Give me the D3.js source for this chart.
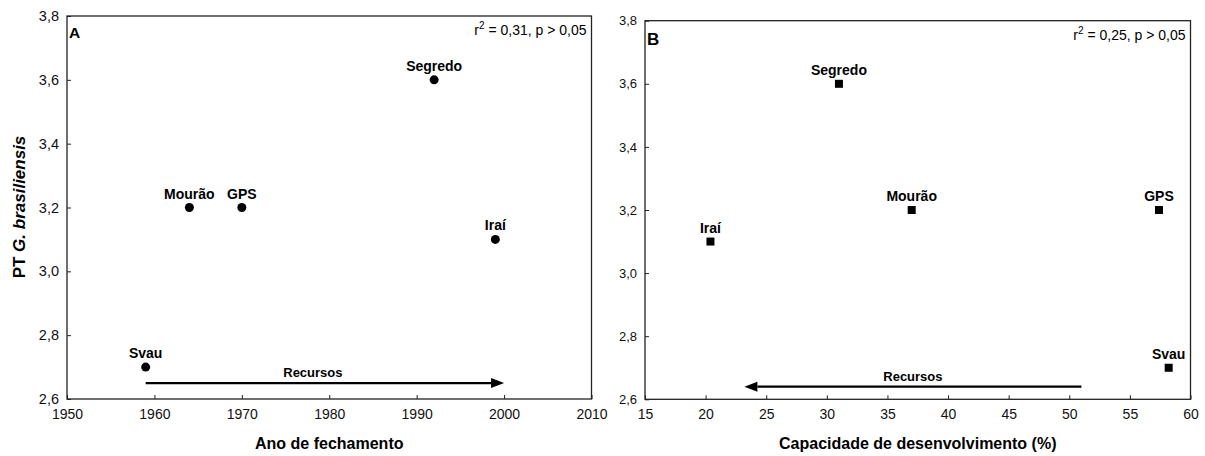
<!DOCTYPE html>
<html>
<head>
<meta charset="utf-8">
<script src="https://cdn.jsdelivr.net/npm/d3@7/dist/d3.min.js"></script>
<style>
  body { margin: 0; background: #fff; }
  svg { display: block; font-family: "Liberation Sans", Arial, sans-serif; }
</style>
</head>
<body>
<svg id="chart" width="1205" height="456"></svg>
<script>
// ---- data ----
const sites = ["Svau", "Mourão", "GPS", "Segredo", "Iraí"];
const ptValues = [2.7, 3.2, 3.2, 3.6, 3.1];
const closingYear = [1959, 1964, 1970, 1992, 1999];
const devCapacity = [58.2, 37.0, 57.4, 31.0, 20.4];
const yTicks = [2.6, 2.8, 3.0, 3.2, 3.4, 3.6, 3.8];
const xTicksA = [1950, 1960, 1970, 1980, 1990, 2000, 2010];
const xTicksB = [15, 20, 25, 30, 35, 40, 45, 50, 55, 60];
const arrowA = { from: 1959, to: 2000, y: 2.65, label: "Recursos" };
const arrowB = { from: 51, to: 23.2, y: 2.64, label: "Recursos" };
const statsA = "0,31";
const statsB = "0,25";

const svg = d3.select("#chart");
const fmt = d => d3.format(".1f")(d).replace(".", ",");

function panel(cfg) {
  const x = d3.scaleLinear().domain(cfg.xDomain).range([cfg.left, cfg.right]);
  const y = d3.scaleLinear().domain([2.6, 3.8]).range([cfg.bottom, cfg.top]);
  const g = svg.append("g");

  // x axis
  const xa = g.append("g").attr("transform", `translate(0,${cfg.bottom})`)
    .call(d3.axisBottom(x).tickValues(cfg.xTicks).tickSize(-4).tickPadding(10).tickFormat(d3.format("d")));
  xa.select(".domain").remove();
  xa.selectAll("line").attr("stroke", "#222");
  xa.selectAll("text").attr("font-size", cfg.xFont).attr("fill", "#111");

  const ya = g.append("g").attr("transform", `translate(${cfg.left},0)`)
    .call(d3.axisLeft(y).tickValues(yTicks).tickSize(-4).tickPadding(cfg.yPad).tickFormat(fmt));
  ya.select(".domain").remove();
  ya.selectAll("line").attr("stroke", "#222");
  ya.selectAll("text").attr("font-size", cfg.yFont).attr("fill", "#111");

  // frame
  g.append("rect").attr("x", cfg.left).attr("y", cfg.top)
    .attr("width", cfg.right - cfg.left).attr("height", cfg.bottom - cfg.top)
    .attr("fill", "none").attr("stroke", "#222").attr("stroke-width", 1.3);

  // panel letter
  g.append("text").attr("x", cfg.left + 2).attr("y", cfg.top + cfg.letterDy)
    .attr("font-size", cfg.letterFont).attr("font-weight", "bold").text(cfg.letter);

  // stats
  const st = g.append("text").attr("x", cfg.right - 5).attr("y", cfg.top + 19)
    .attr("text-anchor", "end").attr("font-size", 14);
  st.append("tspan").text("r");
  st.append("tspan").attr("font-size", 10).attr("dy", -6).text("2");
  st.append("tspan").attr("dy", 6).text(` = ${cfg.stat}, p > 0,05`);

  // points
  const pts = sites.map((s, i) => ({ s, x: cfg.xVals[i], y: ptValues[i] }));
  if (cfg.shape === "circle") {
    g.selectAll("circle.pt").data(pts).join("circle").attr("class", "pt")
      .attr("cx", d => x(d.x)).attr("cy", d => y(d.y)).attr("r", 4.5).attr("fill", "#000");
  } else {
    g.selectAll("rect.pt").data(pts).join("rect").attr("class", "pt")
      .attr("x", d => x(d.x) - 4).attr("y", d => y(d.y) - 4).attr("width", 8).attr("height", 8).attr("fill", "#000");
  }
  g.selectAll("text.lab").data(pts).join("text").attr("class", "lab")
    .attr("x", d => x(d.x)).attr("y", d => y(d.y) - 9)
    .attr("text-anchor", "middle").attr("font-size", 14).attr("font-weight", "bold")
    .text(d => d.s);

  // arrow
  const a = cfg.arrow;
  const x1 = x(a.from), x2 = x(a.to), ay = y(a.y);
  const dir = Math.sign(x2 - x1);
  const headLen = 13, headW = 5;
  g.append("line").attr("x1", x1).attr("x2", x2 - dir * headLen).attr("y1", ay).attr("y2", ay)
    .attr("stroke", "#000").attr("stroke-width", 2.2);
  g.append("path").attr("d", `M${x2},${ay} L${x2 - dir * headLen},${ay - headW} L${x2 - dir * headLen},${ay + headW} Z`)
    .attr("fill", "#000");
  g.append("text").attr("x", (x1 + x2) / 2 + cfg.recDx).attr("y", ay - 6)
    .attr("text-anchor", "middle").attr("font-size", 13).attr("font-weight", "bold").text(a.label);

  // x title
  g.append("text").attr("x", (cfg.left + cfg.right) / 2).attr("y", 449)
    .attr("text-anchor", "middle").attr("font-size", 16).attr("font-weight", "bold").text(cfg.xTitle);
  return { x, y };
}

panel({
  left: 67, right: 591.5, top: 16, bottom: 399,
  xDomain: [1950, 2010], xTicks: xTicksA, xVals: closingYear,
  xFont: 14, yFont: 14.5, yPad: 8, letter: "A", letterFont: 15.5, letterDy: 22,
  stat: statsA, shape: "circle", arrow: arrowA, recDx: -12,
  xTitle: "Ano de fechamento"
});
panel({
  left: 645, right: 1190.5, top: 20.7, bottom: 399.3,
  xDomain: [15, 60], xTicks: xTicksB, xVals: devCapacity,
  xFont: 14, yFont: 13, yPad: 8, letter: "B", letterFont: 17, letterDy: 24,
  stat: statsB, shape: "square", arrow: arrowB, recDx: 0,
  xTitle: "Capacidade de desenvolvimento (%)"
});

// y title
const yt = svg.append("text").attr("transform", "translate(25,207) rotate(-90)")
  .attr("text-anchor", "middle").attr("font-size", 17).attr("font-weight", "bold");
yt.append("tspan").text("PT ");
yt.append("tspan").attr("font-style", "italic").text("G. brasiliensis");
</script>
</body>
</html>
